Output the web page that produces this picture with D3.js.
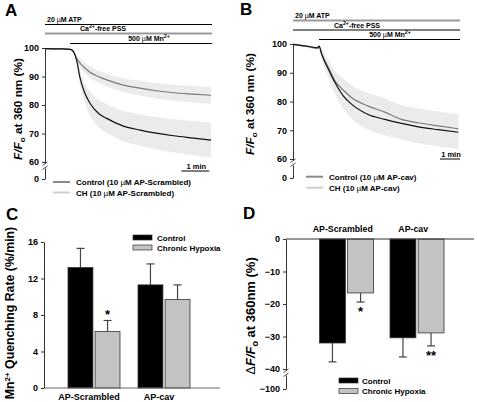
<!DOCTYPE html>
<html><head><meta charset="utf-8">
<script src="https://cdn.jsdelivr.net/npm/d3@7"></script>
<style>
body{margin:0;background:#fff;}
svg{display:block;font-family:"Liberation Sans",Arial,Helvetica,sans-serif;font-weight:bold;}
</style></head><body>
<svg id="fig" width="477" height="402"></svg>
<script>
// ---------------- DATA ----------------
// Panel A (AP-Scrambled) time in seconds
const timeA = [0, 30, 55, 62, 68, 75, 86, 97, 115, 133, 169, 205, 240, 277, 320, 358];
const grayTraceA = [99.8, 99.7, 99.5, 98.6, 96.4, 94.8, 93.0, 91.5, 90.0, 88.8, 87.0, 85.9, 85.0, 84.3, 83.8, 83.4];
const graySemA   = [0.2, 0.2, 0.2, 0.5, 1.0, 1.5, 1.8, 2.0, 2.1, 2.2, 2.4, 2.6, 2.7, 2.8, 2.9, 3.0];
const blackTraceA = [99.8, 99.7, 99.5, 98.5, 95.8, 89.9, 84.1, 80.6, 77.1, 75.3, 72.6, 71.2, 70.1, 69.2, 68.4, 67.7];
const blackSemA   = [0.2, 0.2, 0.2, 0.5, 1.2, 2.5, 3.5, 4.2, 4.7, 5.0, 5.3, 5.5, 5.7, 5.8, 6.0, 6.1];
// Panel B (AP-cav)
const timeB = [0, 40, 74, 78, 86, 106, 126, 151, 176, 225, 275, 325, 375, 435, 495];
const blackTraceB = [99.9, 99.3, 98.7, 99.3, 96.4, 91.2, 86.5, 81.9, 79.0, 75.5, 73.8, 72.4, 71.2, 70.2, 69.3];
const blackSemB   = [0.2, 0.3, 0.4, 0.5, 1.5, 3.0, 4.0, 4.5, 5.0, 5.3, 5.5, 5.6, 5.7, 5.8, 5.9];
const grayTraceB  = [99.9, 99.2, 98.5, 99.2, 96.6, 91.8, 87.1, 83.9, 81.3, 78.4, 76.3, 73.8, 72.6, 71.5, 70.5];
const graySemB    = [0.2, 0.3, 0.4, 0.5, 1.2, 2.5, 3.5, 4.0, 4.3, 4.6, 4.8, 4.9, 5.0, 5.0, 5.1];
const traceTicks = [0, 60, 70, 80, 90, 100];
const legendA = ["Control (10 \u00b5M AP-Scrambled)", "CH (10 \u00b5M AP-Scrambled)"];
const legendB = ["Control (10 \u00b5M AP-cav)", "CH (10 \u00b5M AP-cav)"];

// Panels C and D
const barGroups = ["AP-Scrambled", "AP-cav"];
const barSeries = ["Control", "Chronic Hypoxia"];
const rateControl = [13.2, 11.3];
const rateControlSem = [2.1, 2.3];
const rateCH = [6.2, 9.7];
const rateCHSem = [1.2, 1.6];
const rateSig = ["*", ""];
const rateTicks = [0, 4, 8, 12, 16];
const dffControl = [-32.0, -30.4];
const dffControlSem = [5.8, 5.9];
const dffCH = [-16.6, -28.9];
const dffCHSem = [2.8, 4.0];
const dffSig = ["*", "**"];
const dffTicks = [-100, -40, -30, -20, -10, 0];

// ---------------- DRAW ----------------
const svg = d3.select("#fig");
const FONT = '"Liberation Sans",Arial,Helvetica,sans-serif';

function panelLetter(t, x, y) {
  svg.append("text").attr("x", x).attr("y", y).attr("font-size", 17).text(t);
}

function styleAxis(g, fs) {
  g.attr("font-family", FONT).attr("font-size", fs).attr("font-weight", "bold");
  g.selectAll("path.domain").attr("stroke", "#333");
  g.selectAll(".tick line").attr("stroke", "#333");
  g.selectAll(".tick text").attr("fill", "#000");
}

function axisBreak(x, yTop) {
  svg.append("rect").attr("x", x - 4).attr("y", yTop).attr("width", 8).attr("height", 5).attr("fill", "#fff");
  [0, 4].forEach(d => {
    svg.append("line").attr("x1", x - 2.5).attr("y1", yTop + d + 2)
      .attr("x2", x + 2.5).attr("y2", yTop + d - 1.5)
      .attr("stroke", "#333").attr("stroke-width", 0.9);
  });
}

function superText(sel, parts) {
  parts.forEach(p => {
    const t = sel.append("tspan").text(p.t);
    if (p.sup) t.attr("dy", -3).attr("font-size", "75%");
    if (p.back) t.attr("dy", 3);
    if (p.it) t.attr("font-style", "italic");
    if (p.normal) t.attr("font-weight", "normal");
  });
}

function tracePanel(p) {
  const x = d3.scaleLinear().domain([0, p.tMax]).range([p.left, p.right]);
  const y = d3.scaleLinear().domain([0, 60, 100]).range([p.yZero, p.y60, p.y100]);
  const g = svg.append("g");
  // SEM bands
  p.series.forEach(s => {
    const area = d3.area()
      .x((d, i) => x(p.time[i]))
      .y0((d, i) => y(s.mean[i] - s.sem[i]))
      .y1((d, i) => y(s.mean[i] + s.sem[i]))
      .curve(d3.curveMonotoneX);
    g.append("path").datum(s.mean).attr("d", area).attr("fill", "#ebebeb");
  });
  p.series.forEach(s => {
    const line = d3.line().x((d, i) => x(p.time[i])).y(d => y(d)).curve(d3.curveMonotoneX);
    g.append("path").datum(s.mean).attr("d", line).attr("fill", "none")
      .attr("stroke", s.color).attr("stroke-width", 1.2);
  });
  // axis
  const ax = svg.append("g").attr("transform", `translate(${p.left},0)`)
    .call(d3.axisLeft(y).tickValues(traceTicks).tickSize(3).tickSizeOuter(0).tickPadding(3));
  styleAxis(ax, 9);
  axisBreak(p.left, y(60) + 1.5);
  // y label
  const lab = svg.append("text").attr("transform", `translate(${p.labX},${p.labY}) rotate(-90)`)
    .attr("text-anchor", "middle").attr("font-size", 11.8);
  lab.append("tspan").attr("font-style", "italic").text("F/F");
  lab.append("tspan").attr("font-size", 8).attr("dy", 3).text("o");
  lab.append("tspan").attr("dy", -3).text(" at 360 nm (%)");
  // protocol bars
  p.proto.forEach(r => {
    const x0 = r.start == null ? p.left : x(r.start);
    svg.append("line").attr("x1", x0).attr("x2", p.right).attr("y1", r.ly).attr("y2", r.ly)
      .attr("stroke", r.color).attr("stroke-width", r.w);
    const t = svg.append("text").attr("x", r.tx).attr("y", r.ty).attr("font-size", 7)
      .attr("text-anchor", r.anchor);
    superText(t, r.parts);
  });
  // 1 min scale bar
  svg.append("line").attr("x1", x(p.barEnd - 60)).attr("x2", x(p.barEnd)).attr("y1", p.barY).attr("y2", p.barY)
    .attr("stroke", "#000").attr("stroke-width", 1);
  svg.append("text").attr("x", (x(p.barEnd - 60) + x(p.barEnd)) / 2 + 1).attr("y", p.barY - 2.5)
    .attr("text-anchor", "middle").attr("font-size", 7.5).text("1 min");
  // legend
  p.legend.forEach((txt, i) => {
    const yy = p.legY + i * p.legStep;
    svg.append("line").attr("x1", p.legX).attr("x2", p.legX + 17).attr("y1", yy).attr("y2", yy)
      .attr("stroke", i === 0 ? "#8a8a8a" : "#cfcfcf").attr("stroke-width", 2);
    const t = svg.append("text").attr("x", p.legX + 23).attr("y", yy + 3).attr("font-size", 8);
    const parts = txt.split("\u00b5");
    t.append("tspan").text(parts[0]);
    t.append("tspan").attr("font-weight", "normal").text("\u00b5");
    t.append("tspan").text(parts[1]);
  });
}

const mu = "\u00b5";
tracePanel({
  left: 45, right: 212, tMax: 360, yZero: 179, y60: 162, y100: 48,
  time: timeA,
  series: [
    {mean: grayTraceA, sem: graySemA, color: "#7a7a7a"},
    {mean: blackTraceA, sem: blackSemA, color: "#111"}
  ],
  labX: 22, labY: 109,
  proto: [
    {ly: 24.5, color: "#000", w: 1, start: null, tx: 47, ty: 22, anchor: "start",
      parts: [{t: "20 "}, {t: mu, normal: true}, {t: "M ATP"}]},
    {ly: 33.5, color: "#9a9a9a", w: 2, start: null, tx: 103, ty: 31, anchor: "middle",
      parts: [{t: "Ca"}, {t: "2+", sup: true}, {t: "-free PSS", back: true}]},
    {ly: 43.5, color: "#000", w: 1, start: 54, tx: 149, ty: 41, anchor: "middle",
      parts: [{t: "500 "}, {t: mu, normal: true}, {t: "M Mn"}, {t: "2+", sup: true}]}
  ],
  barEnd: 354, barY: 171,
  legend: legendA, legX: 53, legY: 182, legStep: 10.5
});

tracePanel({
  left: 293, right: 460, tMax: 500, yZero: 178, y60: 159, y100: 44,
  time: timeB,
  series: [
    {mean: grayTraceB, sem: graySemB, color: "#7a7a7a"},
    {mean: blackTraceB, sem: blackSemB, color: "#111"}
  ],
  labX: 254, labY: 104,
  proto: [
    {ly: 20.5, color: "#9a9a9a", w: 2, start: null, tx: 295, ty: 18, anchor: "start",
      parts: [{t: "20 "}, {t: mu, normal: true}, {t: "M ATP"}]},
    {ly: 30, color: "#000", w: 1, start: null, tx: 357, ty: 27.5, anchor: "middle",
      parts: [{t: "Ca"}, {t: "2+", sup: true}, {t: "-free PSS", back: true}]},
    {ly: 39.5, color: "#000", w: 1, start: 78, tx: 390, ty: 37, anchor: "middle",
      parts: [{t: "500 "}, {t: mu, normal: true}, {t: "M Mn"}, {t: "2+", sup: true}]}
  ],
  barEnd: 500, barY: 159,
  legend: legendB, legX: 306, legY: 176.7, legStep: 11
});

panelLetter("A", 5, 16);
panelLetter("B", 240, 15);
panelLetter("C", 6, 220);
panelLetter("D", 243, 219);

// ---------------- Panel C ----------------
(function () {
  const y = d3.scaleLinear().domain([0, 16]).range([388, 242]);
  const x0 = d3.scaleBand().domain(barGroups).range([59, 199]);
  const x1 = d3.scaleBand().domain(barSeries).range([9, 61]).paddingInner(0.08);
  const means = [rateControl, rateCH], sems = [rateControlSem, rateCHSem];
  const fills = ["#000", "#c3c3c3"];
  barSeries.forEach((s, si) => {
    barGroups.forEach((gname, gi) => {
      const bx = x0(gname) + x1(s), bw = x1.bandwidth(), v = means[si][gi], e = sems[si][gi];
      const cx = bx + bw / 2;
      svg.append("line").attr("x1", cx).attr("x2", cx).attr("y1", y(v)).attr("y2", y(v + e)).attr("stroke", "#444").attr("stroke-width", 1.2);
      svg.append("line").attr("x1", cx - 4).attr("x2", cx + 4).attr("y1", y(v + e)).attr("y2", y(v + e)).attr("stroke", "#444").attr("stroke-width", 1.2);
      svg.append("rect").attr("x", bx).attr("y", y(v)).attr("width", bw).attr("height", y(0) - y(v))
        .attr("fill", fills[si]).attr("stroke", "#333").attr("stroke-width", 0.8);
      if (si === 1 && rateSig[gi]) {
        svg.append("text").attr("x", cx).attr("y", y(v + e) - 1).attr("text-anchor", "middle")
          .attr("font-size", 13).text(rateSig[gi]);
      }
    });
  });
  svg.append("line").attr("x1", 44).attr("x2", 220).attr("y1", y(0)).attr("y2", y(0)).attr("stroke", "#666").attr("stroke-width", 1);
  const ax = svg.append("g").attr("transform", "translate(44,0)")
    .call(d3.axisLeft(y).tickValues(rateTicks).tickSize(3).tickSizeOuter(0).tickPadding(3));
  styleAxis(ax, 9);
  barGroups.forEach(gname => {
    svg.append("text").attr("x", x0(gname) + x0.bandwidth() / 2 - 5).attr("y", 400)
      .attr("text-anchor", "middle").attr("font-size", 9).text(gname);
  });
  const lab = svg.append("text").attr("transform", "translate(14,313) rotate(-90)")
    .attr("text-anchor", "middle").attr("font-size", 12.3);
  lab.append("tspan").text("Mn");
  lab.append("tspan").attr("font-size", 8).attr("dy", -4).text("2+");
  lab.append("tspan").attr("dy", 4).text(" Quenching Rate (%/min)");
  barSeries.forEach((s, i) => {
    svg.append("rect").attr("x", 133).attr("y", 235 + i * 10).attr("width", 19).attr("height", 5)
      .attr("fill", fills[i]).attr("stroke", "#333").attr("stroke-width", 0.7);
    svg.append("text").attr("x", 157).attr("y", 240.5 + i * 10).attr("font-size", 8).text(s);
  });
})();

// ---------------- Panel D ----------------
(function () {
  const y = d3.scaleLinear().domain([-100, -40, 0]).range([389, 369, 239]);
  const x0 = d3.scaleBand().domain(barGroups).range([311.5, 452.5]);
  const x1 = d3.scaleBand().domain(barSeries).range([8, 62]).paddingInner(0.08);
  const means = [dffControl, dffCH], sems = [dffControlSem, dffCHSem];
  const fills = ["#000", "#c3c3c3"];
  barSeries.forEach((s, si) => {
    barGroups.forEach((gname, gi) => {
      const bx = x0(gname) + x1(s), bw = x1.bandwidth(), v = means[si][gi], e = sems[si][gi];
      const cx = bx + bw / 2;
      svg.append("line").attr("x1", cx).attr("x2", cx).attr("y1", y(v)).attr("y2", y(v - e)).attr("stroke", "#444").attr("stroke-width", 1.2);
      svg.append("line").attr("x1", cx - 4).attr("x2", cx + 4).attr("y1", y(v - e)).attr("y2", y(v - e)).attr("stroke", "#444").attr("stroke-width", 1.2);
      svg.append("rect").attr("x", bx).attr("y", y(0)).attr("width", bw).attr("height", y(v) - y(0))
        .attr("fill", fills[si]).attr("stroke", "#333").attr("stroke-width", 0.8);
      if (si === 1 && dffSig[gi]) {
        svg.append("text").attr("x", cx).attr("y", y(v - e) + 14).attr("text-anchor", "middle")
          .attr("font-size", 13).text(dffSig[gi]);
      }
    });
  });
  svg.append("line").attr("x1", 286).attr("x2", 474).attr("y1", y(0)).attr("y2", y(0)).attr("stroke", "#333").attr("stroke-width", 1);
  const ax = svg.append("g").attr("transform", "translate(286,0)")
    .call(d3.axisLeft(y).tickValues(dffTicks).tickSize(3).tickSizeOuter(0).tickPadding(3));
  styleAxis(ax, 9);
  axisBreak(286, y(-40) + 1.5);
  barGroups.forEach(gname => {
    svg.append("text").attr("x", x0(gname) + x0.bandwidth() / 2 - 4).attr("y", 232)
      .attr("text-anchor", "middle").attr("font-size", 8.8).text(gname);
  });
  const lab = svg.append("text").attr("transform", "translate(255,316) rotate(-90)")
    .attr("text-anchor", "middle").attr("font-size", 13);
  lab.append("tspan").attr("font-weight", "normal").text("\u0394");
  lab.append("tspan").attr("font-style", "italic").text("F/F");
  lab.append("tspan").attr("font-size", 9).attr("dy", 3).text("o");
  lab.append("tspan").attr("dy", -3).text(" at 360nm (%)");
  barSeries.forEach((s, i) => {
    svg.append("rect").attr("x", 339).attr("y", 378 + i * 10.5).attr("width", 19).attr("height", 5)
      .attr("fill", fills[i]).attr("stroke", "#333").attr("stroke-width", 0.7);
    svg.append("text").attr("x", 362).attr("y", 383.5 + i * 10.5).attr("font-size", 8).text(s);
  });
})();
</script>
</body></html>
